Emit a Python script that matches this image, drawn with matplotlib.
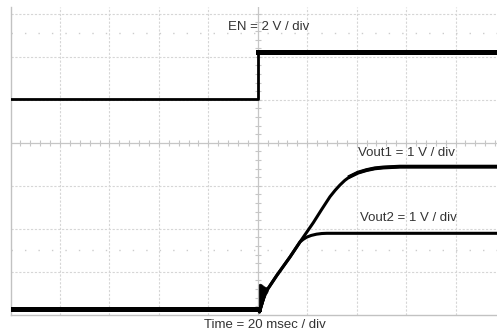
import numpy as np
import matplotlib.pyplot as plt

# scope settings
time_per_div = 20.0      # ms / div
en_scale = 2.0           # V / div
vout_scale = 1.0         # V / div
en_offset = 1.016        # div, ground marker of EN
vout_offset = -3.857     # div, ground marker of Vout1 / Vout2

# EN trace (ms, V)
en_t = [-100.0, 0.1, 0.1, 100.0]
en_v = [0.0, 0.0, 2.2, 2.2]

# Vout1 trace (ms, V)
vout1_t = [-100.0, 0.5, 0.7, 2.95, 7.7, 13.05, 17.1, 22.5, 25.8, 29.2, 31.3, 33.2, 35.2,
           37.3, 40.5, 44.0, 47.3, 50.6, 57.5, 100.0]
vout1_v = [0.0, 0.0, -0.08, 0.36, 0.77, 1.20, 1.55, 2.00, 2.30, 2.60, 2.75, 2.87, 2.98,
           3.07, 3.16, 3.22, 3.26, 3.28, 3.30, 3.30]

# Vout2 trace (ms, V)
vout2_t = [-100.0, 0.5, 0.7, 2.95, 7.7, 13.05, 17.1, 18.4, 19.8, 21.6, 23.8, 25.9, 27.9, 100.0]
vout2_v = [0.0, 0.0, -0.08, 0.36, 0.77, 1.20, 1.55, 1.61, 1.66, 1.70, 1.73, 1.745, 1.75, 1.75]

# start-up glitch band (ms, V)
glitch_t = [0.4, 0.8, 1.6, 2.4, 3.2, 4.0]
glitch_lo = [0.0, -0.08, 0.05, 0.20, 0.32, 0.40]
glitch_hi = [0.56, 0.58, 0.56, 0.52, 0.50, 0.48]

txt_col = '#333333'
grid_col = '#d6d6d6'


def to_div(v, offset, scale):
    return offset + np.asarray(v) / scale


fig = plt.figure(figsize=(4.97, 3.33), dpi=100)
ax = fig.add_axes([10.5 / 497, 1 - 314.7 / 333, 494.5 / 497, 307.7 / 333])
ax.set_xlim(-5 * time_per_div, 5 * time_per_div)
ax.set_ylim(-4, 3.156)
ax.set_xticks([])
ax.set_yticks([])
for s in ['top', 'right']:
    ax.spines[s].set_visible(False)
for s in ['left', 'bottom']:
    ax.spines[s].set_color('#c2c2c2')
    ax.spines[s].set_linewidth(1.0)

# graticule
for k in range(-4, 5):
    if k != 0:
        ax.axvline(k * time_per_div, color=grid_col, lw=0.8, ls=(0, (2, 1.5)), zorder=1)
for k in range(-3, 4):
    if k != 0:
        ax.axhline(k, color=grid_col, lw=0.8, ls=(0, (2, 1.5)), zorder=1)
ax.axhline(0, color='#c6c6c6', lw=0.9, zorder=1)
ax.axvline(0, color='#c6c6c6', lw=0.9, zorder=1)
tx = np.arange(-100, 100.1, time_per_div / 5)
ax.plot(tx, np.zeros_like(tx), ls='none', marker='|', ms=5, mew=0.8, color='#c6c6c6', zorder=1)
ty = np.arange(-4, 3.2, 0.2)
ax.plot(np.zeros_like(ty), ty, ls='none', marker='_', ms=5, mew=0.8, color='#c6c6c6', zorder=1)
for yd in [2.55, -2.5]:
    ax.axhline(yd, color='#cccccc', lw=1.0, ls=(0, (1, 8.7)), zorder=1)

# traces
en_y = to_div(en_v, en_offset, en_scale)
ax.plot(en_t, en_y, color='black', lw=2.0, zorder=3)
ax.plot(en_t[2:], en_y[2:], color='black', lw=3.6, zorder=3)

v1 = to_div(vout1_v, vout_offset, vout_scale)
v2 = to_div(vout2_v, vout_offset, vout_scale)
ax.plot(vout1_t, v1, color='black', lw=2.2, zorder=3, solid_joinstyle='round')
ax.plot(vout1_t[13:], v1[13:], color='black', lw=2.8, zorder=3)
ax.plot(vout2_t, v2, color='black', lw=2.2, zorder=3, solid_joinstyle='round')
ax.plot(vout1_t[:2], v1[:2], color='black', lw=3.6, zorder=3)
ax.fill_between(glitch_t, to_div(glitch_lo, vout_offset, vout_scale),
                to_div(glitch_hi, vout_offset, vout_scale), color='black', lw=0.5, zorder=3)

# labels
fs = 9.5
ax.text(-12.0, 2.69, 'EN = 2 V / div', fontsize=fs, family='Liberation Sans',
        color=txt_col, va='center', ha='left')
ax.text(40.5, -0.24, 'Vout1 = 1 V / div', fontsize=fs, family='Liberation Sans',
        color=txt_col, va='center', ha='left')
ax.text(41.3, -1.75, 'Vout2 = 1 V / div', fontsize=fs, family='Liberation Sans',
        color=txt_col, va='center', ha='left')
fig.text(265 / 497, 1 - 325 / 333, 'Time = 20 msec / div', fontsize=fs,
         family='Liberation Sans', color=txt_col, va='center', ha='center')

fig.savefig('out.png', dpi=100)
